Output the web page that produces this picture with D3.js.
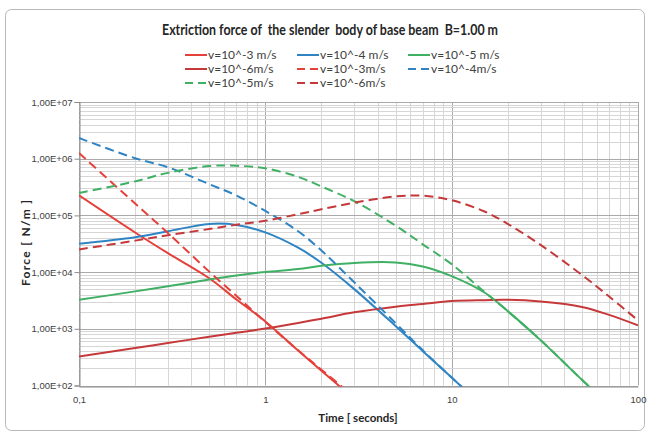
<!DOCTYPE html>
<html>
<head>
<meta charset="utf-8">
<script src="https://cdn.jsdelivr.net/npm/d3@7"></script>
<style>
  body { margin: 0; background: #fff; }
  svg { display: block; font-family: Lato, "Open Sans", sans-serif; }
</style>
</head>
<body>
<script>
// time grid (seconds), shared by all series
var times = [0.1, 0.2, 0.3, 0.5, 0.7, 1, 1.5, 2, 3, 5, 7, 10, 15, 20, 30, 50, 70, 100];

// force values [N/m] (null = not drawn)
var v3solid  = [226000, 50000, 21600, 7800, 3280, 1350, 413, 182, 58, null, null, null, null, null, null, null, null, null];
var v4solid  = [31600, 41200, 52500, 70800, 68000, 50100, 26900, 14600, 5010, 1120, 403, 138, 40, null, null, null, null, null];
var v5solid  = [3240, 4570, 5620, 7410, 8710, 10000, 11300, 12900, 14500, 14800, 12600, 8510, 4370, 2050, 631, 126, 45, null];
var v6solid  = [324, 457, 562, 724, 851, 1010, 1270, 1510, 1950, 2460, 2750, 3090, 3200, 3240, 3020, 2430, 1760, 1150];
var v3dash   = [1260000, 162000, 49000, 10200, 3800, 1320, 417, 190, 63, null, null, null, null, null, null, null, null, null];
var v4dash   = [2320000, 1020000, 708000, 355000, 224000, 120000, 52500, 24000, 6600, 1260, 417, 138, 40, null, null, null, null, null];
var v5dash   = [248000, 398000, 562000, 741000, 750000, 676000, 479000, 324000, 178000, 66100, 30900, 13800, 4470, 2040, 631, 126, 45, null];
var v6dash   = [25100, 35900, 44700, 57500, 68400, 80400, 105000, 128000, 168000, 216000, 223000, 185000, 117000, 70800, 30200, 8900, 3700, 1410];

var seriesNames = ["v=10^-3 m/s", "v=10^-4 m/s", "v=10^-5 m/s", "v=10^-6m/s",
                   "v=10^-3m/s", "v=10^-4m/s", "v=10^-5m/s", "v=10^-6m/s"];

var xTickValues = [0.1, 1, 10, 100];
var xTickLabels = ["0,1", "1", "10", "100"];
var yTickValues = [1e2, 1e3, 1e4, 1e5, 1e6, 1e7];
var yTickLabels = ["1,00E+02", "1,00E+03", "1,00E+04", "1,00E+05", "1,00E+06", "1,00E+07"];

var red = "#e5403a", darkRed = "#c6393b", blue = "#2f85c4", green = "#3fb064";

var series = [
  { name: seriesNames[0], values: v3solid, color: red,     dash: null },
  { name: seriesNames[1], values: v4solid, color: blue,    dash: null },
  { name: seriesNames[2], values: v5solid, color: green,   dash: null },
  { name: seriesNames[3], values: v6solid, color: darkRed, dash: null },
  { name: seriesNames[4], values: v3dash,  color: red,     dash: "9,5" },
  { name: seriesNames[5], values: v4dash,  color: blue,    dash: "9,5" },
  { name: seriesNames[6], values: v5dash,  color: green,   dash: "9,5" },
  { name: seriesNames[7], values: v6dash,  color: darkRed, dash: "9,5" }
];

var W = 651, H = 436;
var plotLeft = 79, plotRight = 638, plotTop = 102, plotBottom = 385.5;

var svg = d3.select("body").append("svg")
  .attr("width", W)
  .attr("height", H);

// chart frame
svg.append("rect")
  .attr("x", 5.5).attr("y", 9.5)
  .attr("width", 639).attr("height", 421)
  .attr("rx", 6)
  .attr("fill", "#fff")
  .attr("stroke", "#b8b8b8");

var xScale = d3.scaleLog().domain([0.1, 100]).range([plotLeft, plotRight]);
var yScale = d3.scaleLog().domain([100, 1e7]).range([plotBottom, plotTop]);

function isMajor(v) {
  var l = Math.log10(v);
  return Math.abs(l - Math.round(l)) < 1e-9;
}

// gridlines
var grid = svg.append("g");
grid.selectAll(".vg")
  .data(xScale.ticks())
  .enter().append("line")
  .attr("x1", function (d) { return Math.round(xScale(d)) + 0.5; })
  .attr("x2", function (d) { return Math.round(xScale(d)) + 0.5; })
  .attr("y1", plotTop).attr("y2", plotBottom)
  .attr("stroke", function (d) { return isMajor(d) ? "#a9a9a9" : "#d6d6d6"; })
  .attr("stroke-width", 1);

grid.selectAll(".hg")
  .data(yScale.ticks())
  .enter().append("line")
  .attr("x1", plotLeft).attr("x2", plotRight)
  .attr("y1", function (d) { return Math.round(yScale(d)) + 0.5; })
  .attr("y2", function (d) { return Math.round(yScale(d)) + 0.5; })
  .attr("stroke", function (d) { return isMajor(d) ? "#a9a9a9" : "#d6d6d6"; })
  .attr("stroke-width", 1);

// axes
var yAxis = d3.axisLeft(yScale)
  .tickValues(yTickValues)
  .tickFormat(function (d, i) { return yTickLabels[i]; })
  .tickSize(5).tickPadding(2);
var gy = svg.append("g")
  .attr("transform", "translate(" + (plotLeft + 0.5) + ",0)")
  .call(yAxis);

var xAxis = d3.axisBottom(xScale)
  .tickValues(xTickValues)
  .tickFormat(function (d, i) { return xTickLabels[i]; })
  .tickSize(0).tickPadding(10);
var gx = svg.append("g")
  .attr("transform", "translate(0," + (Math.round(plotBottom) + 0.5) + ")")
  .call(xAxis);

[gx, gy].forEach(function (g) {
  g.select(".domain").attr("stroke", "#8c8c8c");
  g.selectAll(".tick line").attr("stroke", "#8c8c8c");
  g.selectAll(".tick text").attr("fill", "#404040").style("font-size", "9.5px");
});

// series
svg.append("clipPath").attr("id", "plotclip")
  .append("rect")
  .attr("x", plotLeft).attr("y", plotTop)
  .attr("width", plotRight - plotLeft).attr("height", plotBottom - plotTop + 1);

var line = d3.line()
  .defined(function (d) { return d[1] != null; })
  .x(function (d) { return xScale(d[0]); })
  .y(function (d) { return yScale(d[1]); })
  .curve(d3.curveCatmullRom.alpha(0.5));

var lines = svg.append("g").attr("clip-path", "url(#plotclip)");
lines.selectAll("path")
  .data(series)
  .enter().append("path")
  .attr("d", function (s) { return line(times.map(function (t, i) { return [t, s.values[i]]; })); })
  .attr("fill", "none")
  .attr("stroke", function (s) { return s.color; })
  .attr("stroke-width", 2)
  .attr("stroke-dasharray", function (s) { return s.dash; });

// title
svg.append("text")
  .attr("x", 330).attr("y", 35)
  .attr("text-anchor", "middle")
  .attr("textLength", 336)
  .attr("lengthAdjust", "spacingAndGlyphs")
  .attr("xml:space", "preserve")
  .style("font-size", "14.5px")
  .style("font-weight", "bold")
  .attr("fill", "#262626")
  .text("Extriction force of  the slender  body of base beam  B=1.00 m");

// axis titles
svg.append("text")
  .attr("x", 358).attr("y", 422)
  .attr("text-anchor", "middle")
  .style("font-size", "11.5px")
  .style("font-weight", "bold")
  .attr("fill", "#262626")
  .text("Time [ seconds]");

svg.append("text")
  .attr("transform", "translate(30,243) rotate(-90)")
  .attr("text-anchor", "middle")
  .attr("textLength", 86)
  .attr("xml:space", "preserve")
  .style("font-size", "12px")
  .style("font-weight", "bold")
  .attr("fill", "#262626")
  .text("Force [ N/m ]");

// legend
var legCols = [185, 297, 408];
var legRows = [55, 69, 83];
var legend = svg.append("g").selectAll("g")
  .data(series)
  .enter().append("g")
  .attr("transform", function (s, i) {
    return "translate(" + legCols[i % 3] + "," + legRows[Math.floor(i / 3)] + ")";
  });
legend.append("line")
  .attr("x1", 0).attr("x2", 22)
  .attr("stroke", function (s) { return s.color; })
  .attr("stroke-width", 2)
  .attr("stroke-dasharray", function (s) { return s.dash ? "8,5" : null; });
legend.append("text")
  .attr("x", 23).attr("dy", "0.35em")
  .style("font-size", "12px")
  .attr("fill", "#404040")
  .text(function (s) { return s.name; });
</script>
</body>
</html>
